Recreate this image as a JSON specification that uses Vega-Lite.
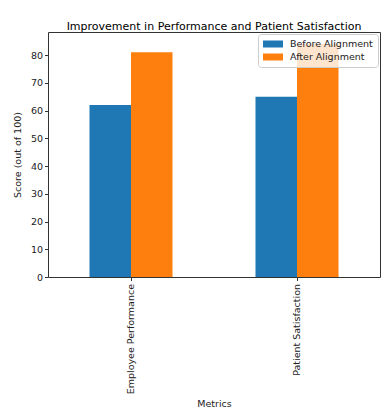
{
  "$schema": "https://vega.github.io/schema/vega-lite/v6.json",
  "autosize": "none",
  "width": 332,
  "height": 245,
  "padding": {"left": 48, "top": 32, "right": 10, "bottom": 139},
  "background": "white",
  "title": {"text": "Improvement in Performance and Patient Satisfaction", "font": "DejaVu Sans", "fontSize": 11, "fontWeight": "normal", "color": "#000", "offset": 0},
  "config": {
    "view": {"stroke": "#333", "strokeWidth": 1},
    "axis": {"labelFont": "DejaVu Sans", "titleFont": "DejaVu Sans", "labelFontSize": 9.5, "titleFontSize": 9.5, "titleFontWeight": "normal", "labelColor": "#222", "titleColor": "#222", "grid": false, "domain": false, "tickColor": "#333", "tickSize": 3.5}
  },
  "data": {"values": [
    {"metric": "Employee Performance", "stage": "Before Alignment", "score": 62},
    {"metric": "Employee Performance", "stage": "After Alignment", "score": 81},
    {"metric": "Patient Satisfaction", "stage": "Before Alignment", "score": 65},
    {"metric": "Patient Satisfaction", "stage": "After Alignment", "score": 84}
  ]},
  "mark": {"type": "bar"},
  "encoding": {
    "x": {"field": "metric", "type": "nominal", "title": "Metrics",
      "scale": {"paddingInner": 0.5, "paddingOuter": 0.25},
      "axis": {"labelAngle": -90, "titlePadding": 5, "labelPadding": 3}},
    "xOffset": {"field": "stage", "type": "nominal", "sort": ["Before Alignment", "After Alignment"], "scale": {"paddingInner": 0, "paddingOuter": 0}},
    "y": {"field": "score", "type": "quantitative", "title": "Score (out of 100)",
      "scale": {"domain": [0, 88.3], "nice": false},
      "axis": {"values": [0, 10, 20, 30, 40, 50, 60, 70, 80], "titlePadding": 8}},
    "color": {"field": "stage", "type": "nominal", "sort": ["Before Alignment", "After Alignment"],
      "scale": {"domain": ["Before Alignment", "After Alignment"], "range": ["#1f77b4", "#ff7f0e"]},
      "legend": {"title": null, "orient": "top-right", "offset": 2, "fillColor": "rgba(255,255,255,0.8)", "strokeColor": "#ccc", "cornerRadius": 3, "padding": 5, "labelFont": "DejaVu Sans", "labelFontSize": 9.5, "labelColor": "#222", "labelOffset": 12, "symbolOffset": 5, "symbolType": "M-2,-0.7H2V0.7H-2Z", "symbolSize": 100, "symbolStrokeWidth": 0, "rowPadding": 3}}
  }
}
